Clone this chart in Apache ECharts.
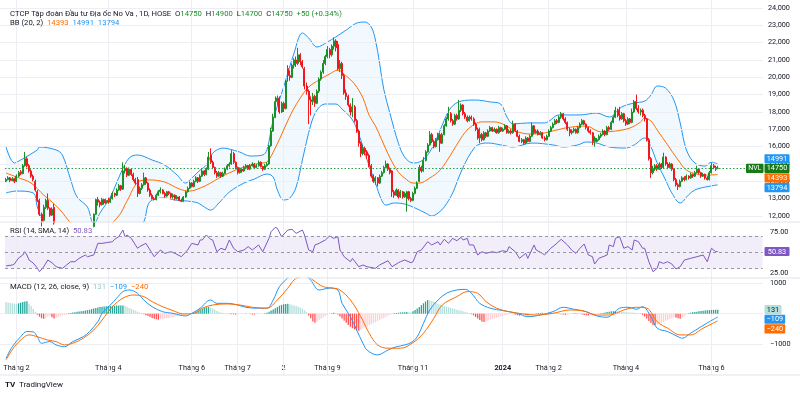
<!DOCTYPE html>
<html>
<head>
<meta charset="UTF-8">
<title>NVL 1D</title>
<script src="https://cdn.jsdelivr.net/npm/echarts@6/dist/echarts.min.js"></script>
<style>
html,body{margin:0;padding:0;background:#fff;}
#main{width:800px;height:396px;}
</style>
</head>
<body>
<div id="main"></div>
<script>
// gia nen ngay: [mo, dong, thap, cao]
var candles = [
[14000,14100,13950,14200],[14100,14200,14050,14300],[14200,14050,13950,14250],[14050,14150,14000,14250],[14150,14000,13900,14200],
[14000,14300,13950,14400],[14300,14500,14250,14600],[14550,14450,14350,14650],[14450,14900,14400,15000],[14900,15300,14850,15700],
[15300,14900,14800,15400],[14900,14600,14500,15000],[14600,14300,14200,14700],[14300,14100,14000,14400],[14000,13500,13400,14100],
[13400,12900,12800,13500],[12900,12100,12000,13000],[12100,11700,11400,12200],[11750,12500,11700,12650],[12500,12900,12400,13000],
[12900,12450,12350,13300],[12450,12050,11950,12500],[12050,12400,12000,12500],[12500,11600,11500,12700],[11550,11200,11100,11580],
[11200,11000,10900,11300],[11000,11250,10950,11350],[11250,11100,11000,11350],[11100,10900,10800,11200],[10900,11000,10850,11100],
[11000,11200,10950,11300],[11200,11050,10950,11250],[11050,10950,10850,11100],[10950,10800,10700,11000],[10800,10700,10600,10850],
[10700,10850,10650,10900],[10850,10750,10650,10900],[10750,10900,10700,11000],[10900,11100,10850,11150],[11100,11000,10950,11200],
[11000,11200,10950,11300],[11200,11400,11150,11500],[11400,12100,11350,12150],[12100,12950,12050,13000],[12950,12800,12600,13100],
[12800,12650,12500,12900],[12650,12950,12600,13050],[12950,12750,12650,13000],[12750,12900,12700,13000],[12900,12800,12700,13050],
[12800,13000,12750,13100],[13000,13300,12950,13400],[13300,13200,13100,13350],[13200,13500,13150,13600],[13500,13750,13450,13850],
[13750,13550,13450,13800],[13550,14600,13500,15100],[14600,14750,14450,14950],[14750,14350,14250,14800],[14350,14700,14300,14800],
[14700,14400,14300,14750],[14400,14100,14000,14500],[14100,13900,13800,14200],[14100,13300,13100,14250],[13300,13600,13250,13700],
[13600,13800,13500,13900],[13800,14200,13750,14500],[14200,13900,13800,14250],[13900,13500,13400,13950],[13500,13200,13100,13600],
[13200,13000,12950,13300],[13000,12950,12900,13100],[12950,13200,12900,13300],[13200,13400,13150,13500],[13400,13500,13300,13650],
[13500,13300,13250,13550],[13300,13150,13050,13400],[13150,13400,13100,13450],[13400,13300,13200,13450],[13300,13100,13000,13350],
[13100,13200,13000,13300],[13200,13000,12900,13250],[13000,13100,12950,13200],[13100,12900,12850,13150],[12900,12850,12800,13000],
[12850,13100,12800,13150],[13100,13400,13050,13450],[13400,13600,13350,13700],[13600,13900,13550,14000],[13900,13700,13650,13950],
[13700,14000,13650,14100],[14000,14200,13950,14300],[14200,14000,13900,14250],[14000,14300,13950,14400],[14300,14600,14250,14700],
[14600,14400,14300,14650],[14400,14700,14350,14800],[14700,15400,14650,15700],[15500,15100,15000,15900],[15100,14800,14700,15200],
[14800,14500,14400,14850],[14500,14300,14200,14600],[14300,14500,14250,14600],[14500,14300,14200,14550],[14300,14450,14250,14550],
[14450,14700,14400,14800],[14700,14900,14650,15000],[14900,15000,14800,15100],[15000,15600,14950,15800],[15600,15100,15000,15700],
[15100,14800,14700,15150],[14800,14500,14400,14850],[14500,14700,14450,14800],[14700,14600,14500,14750],[14600,14800,14550,14900],
[14800,14900,14700,15000],[14900,14700,14650,14950],[14700,14900,14650,15000],[14900,15000,14850,15100],[15000,14800,14700,15050],
[14800,14900,14750,15000],[14900,15100,14850,15200],[15100,14850,14800,15150],[14850,14700,14600,14900],[14700,14900,14650,15000],
[14900,15000,14850,15100],[15000,16050,14950,16100],[16050,16900,16000,17100],[16900,17700,16850,17900],[17700,18600,17650,18900],
[18600,18800,18400,18950],[18800,18000,17900,18900],[18000,18500,17950,18600],[18500,18200,18000,18600],[18200,19800,18150,19850],
[20500,20100,19750,20700],[20100,20000,19800,20400],[20000,20700,19950,20800],[20700,21000,20500,21100],[21000,20800,20600,21200],
[20800,21300,20700,21700],[21300,20900,20700,21400],[20900,20600,20500,21000],[20500,19500,19300,20600],[19500,19200,19000,19700],
[19200,18700,17300,19300],[18700,18600,17800,18900],[18600,18900,18400,19100],[18900,18500,18300,19000],[18500,19200,18450,19300],
[19200,19900,19100,20000],[19900,20300,19800,20400],[20300,20800,20200,21000],[20800,21200,20700,21300],[21200,21600,21100,21800],
[21600,21300,21100,21700],[21300,21800,21200,21900],[21800,22100,21600,22300],[22100,21700,21500,22200],[21900,20500,20400,22100],
[20500,20800,20300,21000],[20800,20100,19900,20900],[20100,19100,19000,20200],[19100,18900,18700,19300],[18900,18400,18300,19000],
[18400,18000,17800,18500],[18000,18300,17700,18800],[18300,17500,17400,18400],[17500,16900,16800,17600],[16900,16200,16000,17000],
[16200,15600,15400,16300],[15600,15900,15500,16100],[15900,15700,15500,16000],[15700,15500,15300,15800],[15500,14900,14800,15600],
[14900,14300,14200,15000],[14300,14000,13900,14400],[14000,14200,13800,14300],[14200,13900,13700,14250],[13900,14300,13850,14400],
[14300,14500,14250,14600],[14500,14800,14450,14900],[14800,15000,14750,15200],[15000,14700,14600,15050],[14700,14500,14400,14800],
[14600,13400,13100,14650],[13400,13200,13050,13500],[13200,13500,13150,13600],[13500,13100,13000,13550],[13100,13400,13050,13500],
[13400,13100,13000,13450],[13100,13300,13050,13400],[13000,13400,12250,13450],[13400,13000,12900,13450],[13000,12900,12800,13100],
[12900,13300,12850,13400],[13300,13600,13250,13700],[13600,13900,13550,14000],[14000,14800,13950,14950],[14800,14600,14500,14900],
[14600,15200,14550,15400],[15200,15700,15150,15800],[15700,16100,15650,16200],[16100,16700,16050,16900],[16700,16300,16200,16800],
[16300,16000,15900,16400],[16000,16400,15950,16500],[16400,16700,16350,16800],[16700,16200,15700,16800],[16200,16700,16150,16800],
[16700,17200,16650,17300],[17200,17600,17150,17700],[17600,17900,17500,18300],[17900,17500,17400,18000],[17500,17300,17200,17600],
[17300,17800,17250,17900],[17800,17600,17500,17900],[17600,18100,17550,18700],[18100,18400,18000,18500],[18400,17900,17800,18450],
[17900,17700,17600,18000],[17700,17500,17400,17800],[17500,17700,17450,17800],[17700,17600,17500,17800],[17600,17300,17200,17700],
[17300,17000,16900,17400],[17000,16500,16400,17100],[16500,16700,16200,17100],[16700,16400,16300,16800],[16400,16800,16350,16900],
[16800,16600,16500,16850],[16600,16900,16550,17000],[16900,17100,16850,17200],[17100,16900,16850,17150],[16900,17000,16850,17100],
[17000,16800,16750,17050],[16800,17100,16750,17200],[17100,16900,16850,17150],[16900,17000,16850,17100],[17000,17200,16950,17300],
[17200,16800,16750,17250],[16800,16900,16750,17000],[16900,16800,16700,17000],[16800,17300,16750,17500],[17300,16900,16850,17350],
[16900,16600,16550,16950],[16600,16300,16250,16700],[16300,16400,16200,16500],[16400,16200,16100,16450],[16200,16500,16150,16600],
[16500,16300,16250,16550],[16300,16600,16250,16700],[16600,17200,16550,17400],[17200,16800,16700,17250],[16800,16900,16750,17000],
[16900,16700,16650,17000],[16700,16800,16650,16900],[16800,16500,16450,16850],[16500,16400,16300,16600],[16400,16600,16350,16700],
[16600,16900,16550,17000],[16900,17100,16850,17200],[17100,17300,17050,17400],[17300,17500,17250,17600],[17500,17400,17300,17600],
[17400,17700,17350,17800],[17700,17900,17600,18000],[17900,17600,17500,17950],[17600,17400,17300,17700],[17400,17000,16900,17450],
[17000,16800,16600,17100],[16800,16900,16700,17000],[16900,17000,16800,17100],[17000,16800,16750,17050],[16800,17100,16750,17200],
[17100,17300,17050,17400],[17300,17500,17250,17600],[17500,17300,17250,17550],[17300,17100,17000,17350],[17100,16900,16800,17150],
[16900,16800,16700,17000],[16800,16300,16100,16850],[16300,16500,16000,16600],[16300,16400,16250,16500],[16400,16600,16350,16700],
[16600,16700,16500,16800],[16700,16900,16650,17000],[16900,16700,16600,16950],[16700,17100,16650,17200],[17100,17000,16900,17200],
[17000,17400,16950,17500],[17400,17700,17350,17800],[17700,18100,17650,18300],[18100,17800,17700,18200],[17800,17600,17500,18300],
[17600,17900,17550,18000],[17900,17500,17400,17950],[17500,17300,17200,17600],[17300,17600,17250,17700],[17600,17400,17300,17650],
[17400,18000,17350,18200],[18000,18600,17950,18700],[18600,18200,18100,19000],[18200,18000,17900,18400],[18000,18100,17800,18200],
[18100,17800,17700,18200],[17800,17600,17450,17900],[17600,16400,16300,17650],[16400,15300,15200,16500],[15300,14500,14200,15400],
[14500,14700,14400,14900],[14700,14900,14600,15000],[14900,14700,14600,15000],[14700,15000,14650,15100],[15000,14800,14700,15050],
[14800,15400,14750,15650],[15400,15000,14900,15450],[15000,14800,14700,15100],[14800,15000,14750,15100],[15000,14700,14600,15050],
[14700,14100,14000,14750],[14100,13800,13700,14200],[13800,13700,13500,13900],[13700,14000,13650,14100],[14000,14200,13950,14300],
[14200,14100,14000,14300],[14100,14300,14050,14400],[14300,14200,14100,14350],[14200,14400,14150,14500],[14400,14300,14200,14450],
[14300,14500,14250,14600],[14500,14700,14450,14900],[14700,14500,14400,14750],[14500,14300,14200,14550],[14300,14400,14250,14500],
[14400,14200,14100,14450],[14200,14100,14050,14300],[14100,14500,14050,14600],[14500,14900,14450,15100],[14900,14800,14700,15000],
[14800,14700,14600,14900],[14750,14750,14700,14900]
];

// Bollinger (20, 2): [chi so nen, gia tri] doc tu hinh
var bbUpper = [[0,15980],[4,15060],[7,15230],[15,15810],[16,15980],[24,15810],[27,15520],[31,14080],[34,13100],[39,12520],[42,11500],[45,12170],[50,13100],[55,14480],[59,15350],[63,15520],[70,15230],[76,14940],[82,14360],[86,13900],[89,14190],[93,14650],[96,14940],[99,15630],[104,15920],[107,15860],[112,15690],[117,15460],[123,15520],[125,15810],[128,17540],[133,19440],[138,21400],[142,22560],[145,22270],[149,21750],[154,22040],[158,22330],[163,22730],[168,23130],[172,23190],[175,22900],[177,22150],[179,20800],[181,19300],[184,17900],[188,16200],[191,15400],[195,15060],[198,15110],[202,15520],[206,16380],[209,17250],[213,18230],[218,18630],[225,18690],[232,18580],[237,18460],[240,17710],[243,17310],[250,17370],[258,17370],[265,17830],[275,17830],[283,17940],[289,17710],[295,18290],[301,18520],[306,18630],[309,18980],[312,19500],[316,19380],[320,18690],[323,17370],[326,15810],[330,15060],[335,14880],[338,15110],[341,14991]];
var bbBasis = [[0,14480],[5,14250],[12,13900],[18,13210],[21,12920],[26,12340],[31,11600],[36,11150],[42,11000],[47,11150],[51,11600],[55,12170],[57,12650],[59,13100],[61,13600],[64,14020],[69,14080],[76,13960],[83,13560],[88,13440],[93,13610],[98,13900],[102,14190],[110,14650],[117,14940],[123,15060],[125,15110],[129,15920],[133,16960],[137,18000],[141,18810],[145,19440],[150,19850],[155,20190],[159,20420],[163,20080],[167,19610],[171,18810],[174,17800],[177,17200],[180,16400],[184,15340],[188,14530],[191,14190],[195,13900],[198,13900],[203,14190],[208,14650],[213,15520],[218,16500],[222,17080],[228,17430],[234,17430],[239,17250],[244,16900],[251,16730],[258,16790],[268,17080],[278,17190],[285,16850],[292,16900],[299,17080],[304,17420],[306,17650],[309,17480],[312,16960],[317,16100],[322,15230],[326,14650],[331,14420],[336,14360],[341,14393]];
var bbLower = [[0,13330],[5,13440],[13,13330],[15,12520],[18,11600],[22,10900],[28,10300],[35,9900],[42,9700],[50,9900],[57,10500],[62,11100],[66,11650],[68,12630],[70,12920],[76,13040],[81,12920],[87,12860],[92,12750],[95,12520],[98,12340],[102,12750],[107,13380],[114,13900],[119,14130],[125,14420],[128,14250],[130,13500],[133,12920],[136,13040],[139,13670],[142,15230],[146,17250],[149,18110],[153,18460],[158,18460],[161,18170],[166,17540],[170,16380],[173,15230],[177,13900],[180,12900],[182,12630],[186,12750],[191,12690],[196,12460],[201,12170],[204,12000],[207,12170],[210,12520],[214,13330],[217,14250],[220,15060],[223,15690],[226,16100],[231,16210],[237,16100],[243,15980],[252,16210],[262,16100],[267,15980],[274,16100],[278,16270],[283,16210],[289,15980],[297,15920],[301,16100],[306,16500],[309,15980],[312,15060],[316,14080],[319,13330],[323,12750],[327,13210],[330,13500],[335,13670],[341,13794]];

// RSI (14)
var rsiPts = [[0,33.2],[3,34.4],[4,35.6],[6,42.9],[8,46.5],[9,50.6],[10,46.6],[11,40.5],[13,36.8],[15,30.7],[16,26.2],[18,32],[20,40.5],[22,37.2],[24,32.3],[27,30.3],[29,34.4],[31,38.4],[33,38.4],[35,42.5],[38,46.6],[39,44.5],[42,46.6],[44,60.8],[46,60.8],[48,61.6],[51,62.8],[52,65.7],[54,68.9],[56,77],[57,68.9],[58,71],[60,66.9],[63,54.8],[64,56.8],[67,60.8],[69,52.7],[71,44.5],[74,52.7],[76,48.6],[79,50.6],[81,48.6],[84,44.5],[87,52.7],[89,60.8],[92,58.8],[93,64.9],[94,64.9],[96,71],[98,65.7],[99,64.9],[101,50.6],[103,54.8],[105,52.7],[107,64.9],[109,54.8],[111,50.6],[114,52.7],[116,56.8],[118,52.7],[121,58.8],[123,50.6],[126,66.9],[127,75],[129,80.3],[130,79.1],[132,68.9],[135,77],[137,77.9],[139,73],[142,77],[143,71],[145,52.7],[147,50.6],[148,58.8],[150,60.8],[153,64.9],[155,69.8],[157,66.9],[159,68.9],[160,52.7],[162,44.5],[165,38.4],[166,42.5],[169,32.3],[171,34.4],[173,32.3],[177,30.3],[179,34.4],[183,39.6],[185,32.3],[188,37.2],[189,38.4],[191,40.5],[194,37.2],[195,38.4],[197,50.6],[199,52.7],[202,62.8],[204,58.8],[207,62.8],[208,58.8],[210,65.7],[212,60.8],[214,66.9],[216,64],[218,68.1],[219,64.9],[221,66.9],[222,58.8],[224,58.8],[226,46.6],[228,50.6],[230,48.6],[233,50.6],[235,49.4],[238,51.8],[240,50.6],[241,56.8],[244,50.6],[245,46.6],[246,42.5],[249,48.6],[250,42.5],[253,58.8],[254,52.7],[257,48.6],[258,46.6],[261,54.8],[263,58.8],[266,65.7],[269,58.8],[271,52.7],[273,48.6],[275,54.8],[277,60],[279,46.6],[281,44.5],[282,35.6],[284,42.5],[286,44.5],[288,46.6],[289,58.8],[291,56.8],[292,66.9],[294,68.9],[296,54.8],[298,56.8],[300,52.7],[301,64.9],[303,62.8],[305,54.8],[306,54.8],[308,38.4],[310,26.2],[312,30.3],[313,38.4],[315,36.3],[317,38.4],[319,35.6],[321,29.5],[323,32.3],[325,40.5],[328,42.5],[331,44.5],[334,46.6],[336,38.4],[338,54.8],[340,50.6],[341,50.83]];

// MACD (12, 26, close, 9)
var macdPts = [[0,-1470],[3,-1090],[7,-760],[10,-590],[13,-600],[15,-760],[17,-975],[21,-920],[24,-1030],[28,-1090],[32,-920],[37,-760],[40,-590],[44,-260],[46,10],[50,285],[53,510],[56,725],[59,780],[63,670],[66,450],[70,230],[75,65],[80,10],[86,-75],[89,10],[93,180],[98,450],[101,340],[106,340],[111,285],[115,210],[120,180],[125,180],[128,450],[131,890],[135,1180],[138,1400],[141,1450],[144,1250],[146,1100],[150,780],[155,840],[159,780],[161,340],[165,-100],[168,-540],[171,-975],[173,-1200],[178,-1360],[183,-1200],[187,-1090],[189,-1065],[194,-955],[197,-760],[200,-320],[203,120],[207,450],[211,670],[216,780],[220,800],[223,670],[227,340],[232,180],[238,100],[245,10],[250,-100],[256,-45],[262,65],[267,210],[272,145],[278,65],[283,-75],[288,-120],[291,10],[294,180],[298,210],[302,145],[305,230],[309,-100],[312,-480],[317,-590],[322,-760],[324,-810],[328,-645],[333,-430],[337,-265],[341,-109]];
var signalPts = [[0,-1525],[4,-1090],[8,-810],[11,-700],[15,-760],[20,-870],[24,-920],[28,-1030],[32,-975],[37,-810],[42,-540],[46,-210],[51,230],[56,510],[61,615],[66,560],[70,395],[75,230],[80,100],[85,-10],[90,10],[94,180],[99,285],[106,320],[112,285],[118,210],[125,180],[130,450],[135,840],[138,1110],[141,1220],[144,1260],[147,1110],[152,890],[157,840],[160,780],[165,450],[170,-100],[174,-645],[178,-1030],[183,-1140],[189,-1140],[195,-955],[200,-645],[205,-150],[209,285],[216,560],[221,725],[226,670],[230,395],[235,180],[241,65],[248,-10],[254,-45],[262,10],[270,120],[276,100],[283,-45],[289,-45],[296,120],[302,210],[307,180],[312,-265],[317,-480],[323,-700],[328,-700],[334,-480],[341,-240]];
var hist = [
380,370,355,340,330,320, 340,360,380,400,405, 330,250,150,60,
-40,-100,-150,-170,-140,-100,-80,-120,-160,-140, -100,-80,-60,-40,-20,
10,25,40,50,60,70,80,90,100,115,130,150,170,190,205,215,225,235,245,250,255,260,262,265,268,270,272,
250,220,190,160,130,100,70,40,10,
-20,-50,-80,-110,-140,-165,-185,-200,
-190,-175,-160,-150,-140,-125,-110,-95,-80,-70,-60,-50,-40,-25,-10,
15,40,70,100,130,160,190,210,220, 200,170,130,
90,60,40,25,15,5,-10,-20,-25,-30,-20,-15,-10,-5,5,-5,-15,-25,-30,-20,-10,-5,0,10,
30,60,100,140,180,220,260,290,310,320,325,
310,290,270,250,230,200,160,110,
50,-60,-150,-260,-300,-270,-220,-170,-120,-80,-40,-10,
15,30,20,
-30,-90,-160,-230,-300,-370,-430,-480,-520,-550,-560,
-520,-490,-455,-420,-385,-350,-315,-280,-245,-210,-175,-140,-105,-70,-40,-15,
10,20,30,40,45,50,55,50,45,
80,120,170,220,280,340,400,450,
440,420,390,360,330,300,270,250,230,210,190,170,150,130,115,100,80,60,40,20,
-20,-60,-110,-160,-210,-260,-275,-250,-225,-200,-175,-150,-130,-110,-90,-70,-55,-40,
-30,-20,-15,-30,-50,-65,-55,-40,-50,-60,-45,-30,-10,10,20,25,30,20,10,20,30,25,15,5,-10,-20,-30,-40,-35,-20,-10,5,10,5,-15,-30,-45,-55,-60,-50,-40,-25,-15,-5,10,
25,40,55,65,75,80,85,80,70,60,55,50,45,40,35,30,20,5,
-10,-40,-90,-160,-240,-310,-370,-385,-360,-330,-300,-270,-240,-210,-180,-150,-120,
-130,-150,-165,-130,-80,-30,
15,30,45,55,65,75,85,95,100,110,115,120,125,128,131
];

var tickIdx = [5,49,89,111,133,154,195,238,260,297,338];
var tickText = ['Tháng 2','Tháng 4','Tháng 6','Tháng 7','2','Tháng 9','Tháng 11','2024','Tháng 2','Tháng 4','Tháng 6'];

var UP = '#1a8f2a', DOWN = '#f2161d', BLUE = '#2196f3', ORANGE = '#ff6d00', PURPLE = '#7e57c2';
var TXT = '#131722', GRIDC = '#eceef3', FONT = 'Roboto, "Noto Sans", sans-serif';
var TFS = 7.7; // co chu tieu de

var NCAT = 363;
var cats = [];
for (var i = 0; i < NCAT; i++) cats.push(String(i));
var tickMap = {};
tickIdx.forEach(function (k, j) { tickMap[k] = tickText[j]; });

// khoang gia tri cho tung khung, theo vi tri pixel cua nhan truc
function span(vTop, yTop, vBot, yBot, top, bottom) {
  var per = (vTop - vBot) / (yBot - yTop);
  return { min: vBot - (bottom - yBot) * per, max: vTop + (yTop - top) * per };
}
var pSpan = span(24000, 8, 12000, 216, 0, 222);
var rSpan = span(75, 231.7, 25, 272.7, 222, 278);
var mSpan = span(1000, 283.3, -1000, 344, 278, 363);

var histColors = hist.map(function (h, i) {
  var p = i > 0 ? hist[i - 1] : h;
  if (h >= 0) return h > p ? '#26a69a' : '#b2dfdb';
  return h < p ? '#ff5252' : '#ffcdd2';
});

var last = candles[candles.length - 1], prev = candles[candles.length - 2];
var chg = last[1] - prev[1];
var pct = (chg / prev[1] * 100).toFixed(2);
var sgn = chg >= 0 ? '+' : '−';
var lastHist = hist[hist.length - 1];
var lastMacd = macdPts[macdPts.length - 1][1];
var lastSig = signalPts[signalPts.length - 1][1];
var lastRsi = rsiPts[rsiPts.length - 1][1];
var bbU = bbUpper[bbUpper.length - 1][1], bbM = bbBasis[bbBasis.length - 1][1], bbL = bbLower[bbLower.length - 1][1];
function mfmt(v) { return v < 0 ? '−' + Math.abs(v) : String(v); }
function rs(color) { return { color: color, fontSize: TFS, fontFamily: FONT }; }

var mychart = echarts.init(document.getElementById('main'));

var dataGrid = function (top, height) { return { left: 5, width: 757.6, top: top, height: height }; };
var hiddenX = function (gi) {
  return { type: 'category', gridIndex: gi, data: cats, boundaryGap: true, show: false };
};
var hiddenY = function (gi, s) {
  return { type: 'value', gridIndex: gi, min: s.min, max: s.max, show: false, splitLine: { show: false } };
};
var bandLine = function (name, data, color, fill, z) {
  return {
    name: name, type: 'line', xAxisIndex: 0, yAxisIndex: 0, data: data, smooth: 0.35,
    showSymbol: false, silent: true, z: z,
    lineStyle: { color: color, width: 1 },
    areaStyle: fill ? { color: fill, origin: 'start', opacity: 1 } : undefined
  };
};

var option = {
  animation: false,
  backgroundColor: '#ffffff',
  textStyle: { fontFamily: FONT },
  title: [
    {
      left: 10, top: 10, padding: 0,
      text: '{t|CTCP Tập đoàn Đầu tư Địa ốc No Va , 1D, HOSE}  {k|O}{v|' + last[0] + '}  {k|H}{v|' + last[3] +
        '}  {k|L}{v|' + last[2] + '}  {k|C}{v|' + last[1] + '}  {v|' + sgn + Math.abs(chg) + ' (' + sgn + pct + '%)}',
      textStyle: { fontSize: TFS, fontWeight: 'normal', rich: { t: rs(TXT), k: rs(TXT), v: rs(UP) } }
    },
    {
      left: 10, top: 19.5, padding: 0,
      text: '{t|BB (20, 2)}  {o|' + bbM + '}  {b|' + bbU + '}  {b|' + bbL + '}',
      textStyle: { fontSize: TFS, fontWeight: 'normal', rich: { t: rs(TXT), o: rs(ORANGE), b: rs(BLUE) } }
    },
    {
      left: 10, top: 227, padding: 0,
      text: '{t|RSI (14, SMA, 14)}  {p|' + lastRsi.toFixed(2) + '}',
      textStyle: { fontSize: TFS, fontWeight: 'normal', rich: { t: rs(TXT), p: rs(PURPLE) } }
    },
    {
      left: 10, top: 283, padding: 0,
      text: '{t|MACD (12, 26, close, 9)}  {h|' + mfmt(lastHist) + '}  {b|' + mfmt(lastMacd) + '}  {o|' + mfmt(lastSig) + '}',
      textStyle: { fontSize: TFS, fontWeight: 'normal', rich: { t: rs(TXT), h: rs('#8fd0c9'), b: rs(BLUE), o: rs(ORANGE) } }
    }
  ],
  grid: [
    dataGrid(0, 222),                                   // 0 gia
    { left: 0, width: 763, top: 8, height: 208 },       // 1 nhan truc gia
    dataGrid(222, 56),                                  // 2 RSI
    { left: 0, width: 763, top: 231.7, height: 41 },    // 3 nhan RSI
    dataGrid(278, 85),                                  // 4 MACD
    { left: 0, width: 763, top: 283.3, height: 60.7 },  // 5 nhan MACD
    { left: 6, width: 362 * 2.087, top: 0, height: 375 } // 6 luoi doc
  ],
  xAxis: [
    hiddenX(0),
    { type: 'value', gridIndex: 1, show: false },
    hiddenX(2),
    { type: 'value', gridIndex: 3, show: false },
    {
      type: 'category', gridIndex: 4, data: cats, boundaryGap: true,
      axisLine: { show: false }, axisTick: { show: false },
      axisLabel: {
        show: true, margin: 1.5, fontSize: 7.3, color: TXT, fontFamily: FONT, hideOverlap: false,
        interval: function (idx) { return tickMap[idx] !== undefined; },
        formatter: function (v) {
          var s = tickMap[Number(v)];
          if (s === undefined) return '';
          return /^\d{4}$/.test(s) ? '{b|' + s + '}' : s;
        },
        rich: { b: { fontWeight: 'bold', fontSize: 7.3, color: TXT, fontFamily: FONT } }
      },
      splitLine: { show: false }
    },
    { type: 'value', gridIndex: 5, show: false },
    {
      type: 'category', gridIndex: 6, data: cats, boundaryGap: false, z: 2,
      axisLine: { show: false }, axisTick: { show: false }, axisLabel: { show: false },
      splitLine: { show: true, interval: function (idx) { return tickMap[idx] !== undefined; },
        lineStyle: { color: GRIDC, width: 1 } }
    }
  ],
  yAxis: [
    hiddenY(0, pSpan),
    {
      type: 'value', gridIndex: 1, position: 'right', min: 12000, max: 24000, interval: 1000, z: 2,
      axisLine: { show: false }, axisTick: { show: false },
      axisLabel: { margin: 5, fontSize: 7.3, color: TXT, fontFamily: FONT },
      splitLine: { show: true, lineStyle: { color: GRIDC, width: 1 } }
    },
    hiddenY(2, rSpan),
    {
      type: 'value', gridIndex: 3, position: 'right', min: 25, max: 75, interval: 50, z: 2,
      axisLine: { show: false }, axisTick: { show: false },
      axisLabel: { margin: 7, fontSize: 7.3, color: TXT, fontFamily: FONT, formatter: function (v) { return v.toFixed(2); } },
      splitLine: { show: false }
    },
    hiddenY(4, mSpan),
    {
      type: 'value', gridIndex: 5, position: 'right', min: -1000, max: 1000, interval: 1000, z: 2,
      axisLine: { show: false }, axisTick: { show: false },
      axisLabel: { margin: 7, fontSize: 7.3, color: TXT, fontFamily: FONT,
        formatter: function (v) { return v === 0 ? '' : mfmt(v); } },
      splitLine: { show: true, lineStyle: { color: GRIDC, width: 1 } }
    },
    { type: 'value', gridIndex: 6, min: 0, max: 1, show: false, splitLine: { show: false } }
  ],
  series: [
    bandLine('BB upper', bbUpper, BLUE, 'rgba(33,150,243,0.06)', 1),
    bandLine('BB lower', bbLower, BLUE, '#ffffff', 1),
    bandLine('BB basis', bbBasis, ORANGE, null, 3),
    {
      name: 'NVL', type: 'candlestick', xAxisIndex: 0, yAxisIndex: 0, data: candles, z: 4,
      barWidth: '72%', silent: true,
      itemStyle: { color: UP, color0: DOWN, borderColor: UP, borderColor0: DOWN, borderWidth: 1 },
      markLine: {
        silent: true, symbol: 'none', label: { show: false },
        lineStyle: { color: '#2f9e44', type: [1.5, 2], width: 1 },
        data: [{ yAxis: last[1] }]
      }
    },
    {
      name: 'RSI', type: 'line', xAxisIndex: 2, yAxisIndex: 2, data: rsiPts, showSymbol: false, silent: true, z: 3,
      lineStyle: { color: PURPLE, width: 1 },
      markArea: { silent: true, itemStyle: { color: 'rgba(126,87,194,0.1)' }, data: [[{ yAxis: 30 }, { yAxis: 70 }]] },
      markLine: {
        silent: true, symbol: 'none', label: { show: false },
        lineStyle: { color: '#9598a1', type: [3, 3], width: 1 },
        data: [{ yAxis: 70 }, { yAxis: 50 }, { yAxis: 30 }]
      }
    },
    {
      name: 'Histogram', type: 'bar', xAxisIndex: 4, yAxisIndex: 4, barWidth: '62%', silent: true, z: 2,
      data: hist.map(function (h, i) { return { value: h, itemStyle: { color: histColors[i] } }; })
    },
    {
      name: 'MACD', type: 'line', xAxisIndex: 4, yAxisIndex: 4, data: macdPts, smooth: 0.35,
      showSymbol: false, silent: true, z: 3, lineStyle: { color: BLUE, width: 1 }
    },
    {
      name: 'Signal', type: 'line', xAxisIndex: 4, yAxisIndex: 4, data: signalPts, smooth: 0.35,
      showSymbol: false, silent: true, z: 3, lineStyle: { color: ORANGE, width: 1 }
    }
  ]
};

mychart.setOption(option);

// nhan gia tri ben phai, day nhau ra neu chong len
function tagBoxes(list, axisIndex, anchor) {
  list.forEach(function (t) { t.y = mychart.convertToPixel({ yAxisIndex: axisIndex }, t.v); });
  var order = list.slice().sort(function (a, b) { return a.y - b.y; });
  var a = order.indexOf(list[anchor]), gap = 9.6;
  for (var i = a - 1; i >= 0; i--) order[i].y = Math.min(order[i].y, order[i + 1].y - gap);
  for (var j = a + 1; j < order.length; j++) order[j].y = Math.max(order[j].y, order[j - 1].y + gap);
  var els = [];
  list.forEach(function (t) {
    var w = Math.max(17, t.text.length * 4.3 + 3.5);
    els.push({ type: 'rect', silent: true, z: 10, shape: { x: 764.5, y: t.y - 4.6, width: w, height: 9.2, r: 1 }, style: { fill: t.bg } });
    els.push({ type: 'text', silent: true, z: 11, x: 764.5 + w / 2, y: t.y + 0.3,
      style: { text: t.text, fill: t.fg || '#ffffff', font: '7.3px ' + FONT, align: 'center', verticalAlign: 'middle' } });
  });
  return els;
}

var priceTags = [
  { v: bbU, text: String(bbU), bg: BLUE },
  { v: last[1], text: String(last[1]), bg: '#177a17' },
  { v: bbM, text: String(bbM), bg: ORANGE },
  { v: bbL, text: String(bbL), bg: BLUE }
];
var rsiTags = [{ v: lastRsi, text: lastRsi.toFixed(2), bg: PURPLE }];
var macdTags = [
  { v: lastHist, text: mfmt(lastHist), bg: '#b2dfdb', fg: TXT },
  { v: lastMacd, text: mfmt(lastMacd), bg: BLUE },
  { v: lastSig, text: mfmt(lastSig), bg: ORANGE }
];
var graphics = [].concat(tagBoxes(priceTags, 0, 1), tagBoxes(rsiTags, 2, 0), tagBoxes(macdTags, 4, 0));
var yLast = priceTags[1].y;
graphics.push({ type: 'rect', silent: true, z: 10, shape: { x: 746, y: yLast - 4.6, width: 17.5, height: 9.2, r: 1 }, style: { fill: '#177a17' } });
graphics.push({ type: 'text', silent: true, z: 11, x: 754.75, y: yLast + 0.3,
  style: { text: 'NVL', fill: '#ffffff', font: '7px ' + FONT, align: 'center', verticalAlign: 'middle' } });
// vach ngan cac khung
[222, 278, 375].forEach(function (y) {
  graphics.push({ type: 'line', silent: true, z: 9, shape: { x1: 0, y1: y, x2: 800, y2: y }, style: { stroke: '#e0e3eb', lineWidth: 1 } });
});
graphics.push({ type: 'text', silent: true, z: 11, x: 5, y: 385,
  style: { text: 'TV', fill: TXT, font: 'bold 8px ' + FONT, verticalAlign: 'middle' } });
graphics.push({ type: 'text', silent: true, z: 11, x: 19, y: 385,
  style: { text: 'TradingView', fill: TXT, font: '8px ' + FONT, verticalAlign: 'middle' } });

mychart.setOption({ graphic: graphics });
</script>
</body>
</html>
